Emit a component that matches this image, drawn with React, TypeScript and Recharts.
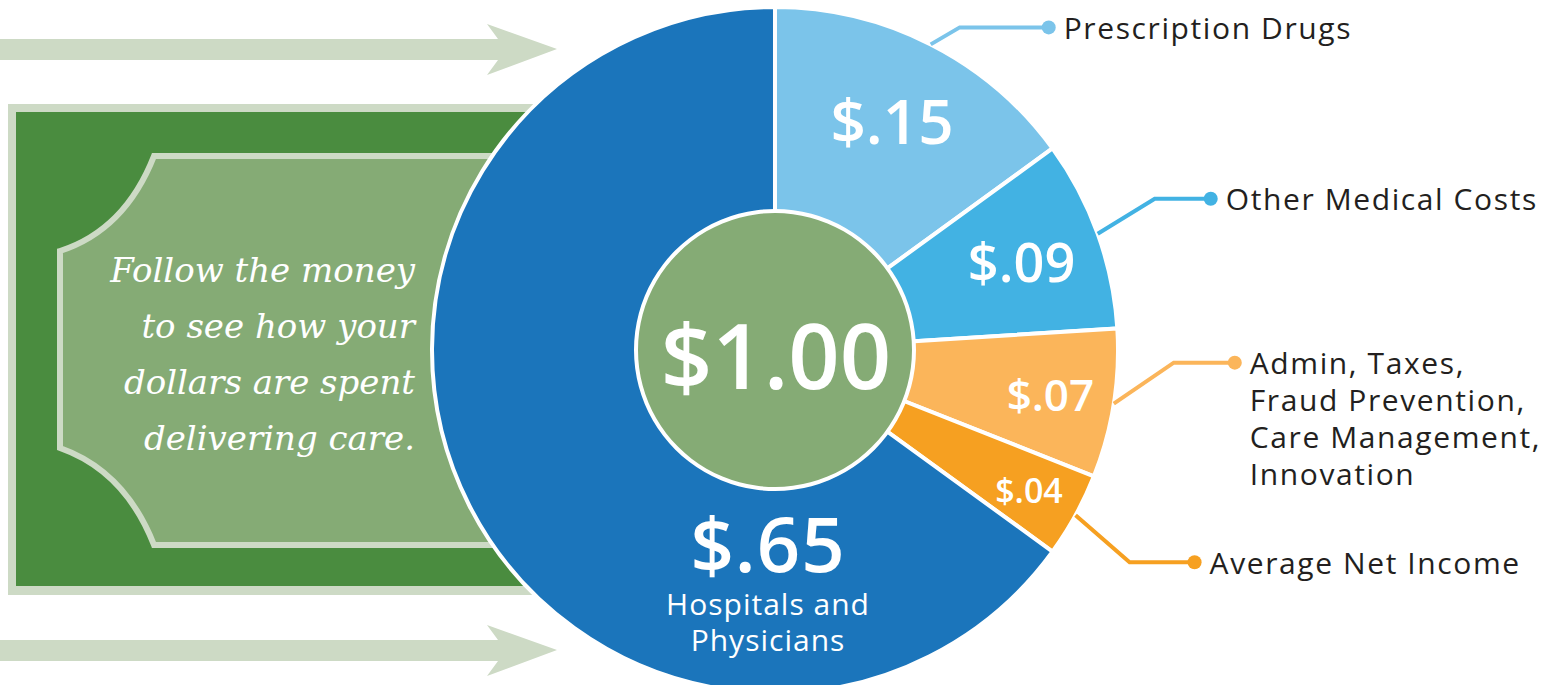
import React from "react";
import { PieChart, Pie, Cell } from "recharts";

const categories = [
  "Prescription Drugs",
  "Other Medical Costs",
  "Admin, Taxes, Fraud Prevention, Care Management, Innovation",
  "Average Net Income",
  "Hospitals and Physicians",
];
const amounts = [0.15, 0.09, 0.07, 0.04, 0.65];
const valueLabels = ["$.15", "$.09", "$.07", "$.04", "$.65"];
const legendLines = [
  ["Prescription Drugs"],
  ["Other Medical Costs"],
  ["Admin, Taxes,", "Fraud Prevention,", "Care Management,", "Innovation"],
  ["Average Net Income"],
  ["Hospitals and", "Physicians"],
];
const totalAmount = 1.0;
const totalLabel = "$1.00";
const messageLines = ["Follow the money", "to see how your", "dollars are spent", "delivering care."];

const COLORS = ["#7bc4ea", "#42b2e3", "#fbb55a", "#f6a021", "#1b75bb"];
const DARK = "#231f20";
const SANS = "'Open Sans', 'Noto Sans', sans-serif";

// per-slice label layout: value text radius (fraction of R), font size, leader elbow offset, leader length
const LAYOUT = [
  { r: 0.752, size: 62, ex: 29, ey: -17, len: 89 },
  { r: 0.764, size: 54, ex: 57, ey: -35, len: 56 },
  { r: 0.813, size: 44, ex: 60, ey: -41, len: 61 },
  { r: 0.845, size: 34, ex: 54, ey: 47, len: 65 },
];

const RAD = Math.PI / 180;

const sliceData = categories.map((name, i) => ({ name, value: amounts[i] }));
const totalData = [{ name: "Total", value: totalAmount }];

function SliceLabel(props: any) {
  const { cx, cy, midAngle, outerRadius, index } = props;
  if (index === 4) {
    return (
      <g>
        <text x={cx - 7} y={cy + 192} fill="#fff" fontSize={76} fontWeight={600} fontFamily={SANS}
          textAnchor="middle" dominantBaseline="central" letterSpacing={1}>{valueLabels[index]}</text>
        {legendLines[index].map((t, k) => (
          <text key={k} x={cx - 7} y={cy + 253 + k * 36} fill="#fff" fontSize={30} fontFamily={SANS}
            textAnchor="middle" dominantBaseline="central" letterSpacing={1}>{t}</text>
        ))}
      </g>
    );
  }
  const L = LAYOUT[index];
  const cos = Math.cos(-midAngle * RAD);
  const sin = Math.sin(-midAngle * RAD);
  const vx = cx + outerRadius * L.r * cos;
  const vy = cy + outerRadius * L.r * sin;
  const sx = cx + outerRadius * cos;
  const sy = cy + outerRadius * sin;
  const bx = sx + L.ex;
  const by = sy + L.ey;
  const dx = bx + L.len;
  const color = COLORS[index];
  return (
    <g>
      <text x={vx} y={vy} fill="#fff" fontSize={L.size} fontWeight={600} fontFamily={SANS}
        textAnchor="middle" dominantBaseline="central">{valueLabels[index]}</text>
      <polyline points={`${sx},${sy} ${bx},${by} ${dx},${by}`} fill="none" stroke={color} strokeWidth={4} />
      <circle cx={dx} cy={by} r={7} fill={color} />
      {legendLines[index].map((t, k) => (
        <text key={k} x={dx + 15} y={by + k * 37} fill={DARK} fontSize={30} fontFamily={SANS}
          dominantBaseline="central" letterSpacing={1.6}>{t}</text>
      ))}
    </g>
  );
}

function TotalLabel(props: any) {
  const { cx, cy } = props;
  return (
    <text x={cx + 1} y={cy + 4} fill="#fff" fontSize={90} fontWeight={600} fontFamily={SANS}
      textAnchor="middle" dominantBaseline="central">{totalLabel}</text>
  );
}

function Backdrop() {
  const arrow = (y: number) =>
    `0,${y - 10} 498,${y - 10} 487,${y - 25} 557,${y} 487,${y + 26} 498,${y + 11} 0,${y + 11}`;
  return (
    <svg width={1557} height={685} style={{ position: "absolute", left: 0, top: 0 }}>
      <polygon points={arrow(49)} fill="#cddac5" />
      <polygon points={arrow(650)} fill="#cddac5" />
      <rect x={8} y={104} width={700} height={491} fill="#cddac5" />
      <rect x={16} y={112} width={700} height={474} fill="#4a8c3f" />
      <path d="M154,156 L700,156 L700,545 L154,545 Q125,471 60,448 L60,251 Q125,230 154,156 Z"
        fill="#85ab75" stroke="#cddac5" strokeWidth={6} />
      {messageLines.map((t, k) => (
        <text key={k} x={415} y={282 + k * 56} fill="#fff" fontSize={34} fontStyle="italic"
          fontFamily="'DejaVu Serif', serif" textAnchor="end">{t}</text>
      ))}
    </svg>
  );
}

export default function App() {
  return (
    <div style={{ position: "relative", width: 1557, height: 685, overflow: "hidden" }}>
      <style>{`body{margin:0}`}</style>
      <Backdrop />
      <div style={{ position: "absolute", left: 0, top: 0 }}>
        <PieChart width={1557} height={685} margin={{ top: 0, right: 0, bottom: 0, left: 0 }}>
          <Pie
            data={sliceData}
            dataKey="value"
            nameKey="name"
            cx={775}
            cy={350}
            outerRadius={343}
            startAngle={90}
            endAngle={-270}
            stroke="#fff"
            strokeWidth={4}
            label={SliceLabel}
            labelLine={false}
            isAnimationActive={false}
          >
            {sliceData.map((d, i) => (
              <Cell key={d.name} fill={COLORS[i]} />
            ))}
          </Pie>
          {/* white ring behind the centre disc */}
          <Pie
            data={totalData}
            dataKey="value"
            cx={775}
            cy={350}
            outerRadius={141}
            startAngle={90}
            endAngle={-270}
            fill="#fff"
            stroke="none"
            label={false}
            labelLine={false}
            isAnimationActive={false}
          />
          <Pie
            data={totalData}
            dataKey="value"
            cx={775}
            cy={350}
            outerRadius={137}
            startAngle={90}
            endAngle={-270}
            fill="#85ab75"
            stroke="none"
            label={TotalLabel}
            labelLine={false}
            isAnimationActive={false}
          />
        </PieChart>
      </div>
    </div>
  );
}
